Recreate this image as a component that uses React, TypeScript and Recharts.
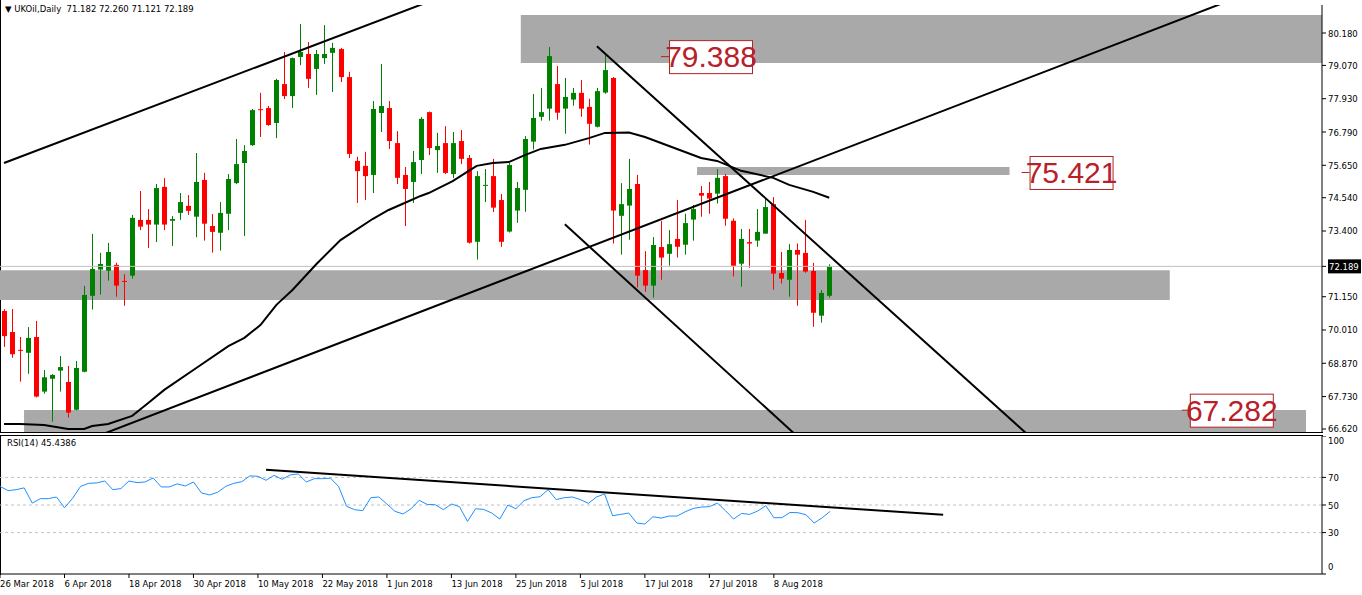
import React from "react";
import {
  Bar,
  ComposedChart,
  Line,
  ReferenceArea,
  ReferenceDot,
  ReferenceLine,
  XAxis,
  YAxis,
} from "recharts";

// daily candles, 26 Mar 2018 .. 17 Aug 2018
const opens = [
  70.66, 69.94, 69.33, 69.23, 69.77, 67.9, 68.34, 68.62, 68.23, 67.28, 68.58, 71.18, 72.08, 72.04, 72.24, 71.69,
  71.87, 73.78, 73.78, 73.62, 74.91, 73.75, 74.02, 74.26, 73.89, 75.15, 73.57, 73.34, 73.99, 75.04, 75.73, 76.34,
  77.57, 77.61, 77.1, 78.43, 78.02, 79.36, 79.46, 78.95, 79.32, 79.5, 79.63, 78.67, 75.8, 75.63, 75.32, 77.44,
  77.61, 76.41, 75.32, 75.08, 75.83, 77.47, 76.17, 76.41, 75.35, 76.48, 75.9, 73.03, 74.95, 75.28, 74.46, 73.38,
  74.1, 74.81, 76.46, 77.31, 77.59, 78.43, 77.59, 77.9, 78.13, 77.65, 76.97, 78.14, 78.64, 73.92, 74.27, 75.01,
  72.06, 71.53, 72.85, 72.62, 73.13, 72.93, 73.79, 74.7, 74.7, 74.68, 75.28, 73.75, 72.28, 73.02, 73.07, 73.31,
  74.32, 71.96, 71.73, 72.75, 72.65, 72.03, 70.5, 71.182,
];
const highs = [
  70.72, 70.73, 69.77, 70.11, 70.32, 68.64, 68.5, 69.12, 68.78, 68.95, 71.52, 73.3, 72.65, 72.99, 72.31, 71.92,
  73.95, 74.77, 74.15, 75.01, 75.21, 73.91, 74.7, 74.63, 76.07, 75.39, 73.98, 74.39, 75.35, 76.55, 76.34, 77.58,
  78.13, 77.68, 78.61, 79.53, 79.34, 80.49, 79.87, 79.6, 80.45, 79.84, 79.67, 78.85, 75.94, 76.11, 77.85, 79.12,
  77.85, 76.82, 75.59, 76.14, 77.3, 77.49, 76.76, 76.99, 76.79, 76.86, 76.0, 75.45, 75.52, 75.87, 74.67, 75.73,
  75.08, 76.65, 78.09, 78.3, 79.7, 79.05, 78.64, 78.3, 78.57, 77.93, 78.3, 79.46, 78.67, 75.04, 75.87, 75.32,
  72.71, 73.19, 73.74, 73.43, 74.46, 73.99, 74.29, 74.94, 75.08, 75.52, 75.35, 73.83, 73.47, 73.47, 74.15, 74.53,
  74.56, 72.68, 72.95, 72.97, 73.78, 72.31, 71.38, 72.26,
];
const lows = [
  69.43, 69.06, 68.24, 68.51, 67.7, 67.83, 66.87, 67.9, 67.01, 67.26, 68.56, 70.71, 71.22, 71.7, 71.15, 70.84,
  71.77, 73.43, 72.82, 73.02, 73.43, 72.89, 73.78, 73.95, 73.19, 73.07, 72.66, 72.73, 73.43, 75.01, 73.23, 76.31,
  76.62, 77.0, 76.58, 77.92, 77.61, 79.08, 78.3, 78.06, 79.12, 78.16, 78.5, 75.9, 74.36, 74.46, 74.7, 76.79,
  76.21, 75.01, 73.57, 74.36, 75.35, 76.0, 75.39, 75.35, 75.21, 75.69, 72.97, 72.42, 74.39, 74.05, 72.86, 73.35,
  73.68, 74.06, 76.19, 77.18, 77.18, 77.21, 76.73, 77.69, 77.31, 76.36, 76.95, 78.1, 72.97, 72.59, 73.1, 71.47,
  71.32, 71.12, 71.73, 72.21, 72.49, 72.59, 73.07, 73.89, 73.99, 74.34, 73.58, 71.84, 71.49, 72.14, 72.86, 73.31,
  71.39, 71.6, 71.15, 70.84, 71.97, 70.12, 70.26, 71.121,
];
const closes = [
  69.8, 69.18, 69.3, 69.74, 67.73, 68.39, 68.47, 68.74, 67.18, 68.71, 71.21, 72.1, 72.27, 72.68, 71.53, 71.67,
  73.85, 73.55, 73.62, 74.87, 73.62, 73.81, 74.39, 74.09, 75.08, 73.65, 73.37, 74.02, 75.18, 75.69, 76.14, 77.54,
  77.54, 77.03, 78.57, 78.02, 79.32, 79.53, 78.61, 79.46, 79.46, 79.67, 78.67, 76.04, 75.45, 75.28, 77.58, 77.68,
  76.48, 75.22, 74.84, 75.76, 77.24, 76.24, 76.31, 75.39, 76.41, 75.87, 73.0, 75.28, 74.98, 74.2, 73.03, 75.66,
  74.87, 76.55, 77.27, 77.47, 79.39, 77.45, 77.99, 78.13, 77.59, 77.07, 78.19, 78.91, 74.1, 74.32, 74.84, 71.87,
  71.53, 72.92, 72.49, 72.95, 72.86, 73.67, 74.15, 74.61, 74.51, 75.22, 73.82, 72.21, 73.13, 72.97, 73.37, 74.22,
  71.94, 71.77, 72.75, 72.59, 72.01, 70.6, 71.28, 72.189,
];

const rsiValues = [
  63.5, 60.4, 61.1, 62.4, 51.4, 54.6, 54.6, 55.8, 48.0, 54.8, 63.5, 65.7, 66.0, 67.4, 61.1, 61.9,
  67.4, 66.2, 66.7, 69.6, 63.1, 63.1, 65.3, 63.8, 66.7, 58.7, 57.3, 59.2, 63.5, 65.7, 66.9, 71.1,
  70.8, 67.9, 71.5, 68.6, 71.8, 72.5, 66.7, 69.1, 69.1, 69.4, 63.5, 49.0, 46.6, 45.9, 55.3, 55.8,
  50.7, 45.4, 43.5, 47.3, 53.4, 50.4, 50.2, 46.6, 50.7, 48.8, 38.1, 47.3, 46.8, 44.2, 39.8, 50.0,
  47.3, 53.1, 55.3, 56.0, 61.1, 53.9, 55.3, 55.8, 53.9, 51.2, 55.8, 58.0, 42.2, 43.2, 44.2, 36.9,
  36.2, 41.5, 40.5, 42.0, 42.0, 45.1, 47.5, 48.5, 48.8, 51.4, 45.9, 39.8, 43.9, 43.2, 45.6, 49.5,
  40.8, 40.8, 44.6, 44.4, 42.9, 36.9, 40.8, 45.4386,
];

// moving average at these bars
const maIndex = [0, 2, 5, 8, 10, 11, 13, 16, 18, 20, 24, 28, 30, 32, 34, 36, 39, 41, 42, 46, 48, 50, 52, 53, 56, 58, 59, 61, 63, 65, 67, 70, 73, 75, 78, 80, 83, 87, 89, 92, 96, 98, 101, 103];
const maValues = [66.79, 66.79, 66.76, 66.62, 66.62, 66.72, 66.79, 67.07, 67.51, 67.96, 68.71, 69.46, 69.74, 70.18, 70.87, 71.38, 72.27, 72.82, 73.09, 73.81, 74.12, 74.36, 74.6, 74.7, 75.11, 75.46, 75.63, 75.73, 75.76, 76.0, 76.21, 76.35, 76.58, 76.76, 76.77, 76.62, 76.31, 75.9, 75.8, 75.46, 75.22, 74.98, 74.74, 74.54];

// drawn trend lines: [bar, price] -> [bar, price]
const trendLines = [
  { key: "tA", from: [0, 75.73], to: [53, 81.25] },
  { key: "tB", from: [12, 66.41], to: [152, 81.19] },
  { key: "tC", from: [74, 79.73], to: [128, 66.37] },
  { key: "tD", from: [70, 73.63], to: [99, 66.37] },
];
const rsiTrend = { from: [33, 75.5], to: [117, 42.9] };

const zones = [
  { x1: 65, x2: 164, y1: 79.15, y2: 80.8 },
  { x1: 87, x2: 125, y1: 75.32, y2: 75.59 },
  { x1: 0, x2: 145, y1: 71.04, y2: 72.06 },
  { x1: 3, x2: 162, y1: 66.52, y2: 67.27 },
];
const priceLabels = [
  { bar: 83, price: 79.388 },
  { bar: 128, price: 75.421 },
  { bar: 148, price: 67.282 },
];

const dateTickIndex = [0, 8, 16, 24, 32, 40, 48, 56, 64, 72, 80, 88, 96];
const dateTickLabels = [
  "26 Mar 2018", "6 Apr 2018", "18 Apr 2018", "30 Apr 2018", "10 May 2018", "22 May 2018", "1 Jun 2018",
  "13 Jun 2018", "25 Jun 2018", "5 Jul 2018", "17 Jul 2018", "27 Jul 2018", "8 Aug 2018",
];
const priceTicks = [80.18, 79.07, 77.93, 76.79, 75.65, 74.54, 73.4, 72.189, 71.15, 70.01, 68.87, 67.73, 66.62];
const rsiTicks = [0, 30, 50, 70, 100];
const rsiLevels = [70, 50, 30];

const SLOTS = 165;
const last = opens.length - 1;
const lastClose = closes[last];
const FONT = "DejaVu Sans";

type Row = { [k: string]: number | null };

const rows: Row[] = Array.from({ length: SLOTS }, (_, i) => ({
  idx: i,
  o: opens[i] ?? null,
  h: highs[i] ?? null,
  l: lows[i] ?? null,
  c: closes[i] ?? null,
  rsi: rsiValues[i] ?? null,
  ma: null,
  tA: null,
  tB: null,
  tC: null,
  tD: null,
  rt: null,
}));
maIndex.forEach((b, k) => (rows[b].ma = maValues[k]));
trendLines.forEach((t) => {
  rows[t.from[0]][t.key] = t.from[1];
  rows[t.to[0]][t.key] = t.to[1];
});
rows[rsiTrend.from[0]].rt = rsiTrend.from[1];
rows[rsiTrend.to[0]].rt = rsiTrend.to[1];

function Candle(props: any) {
  const { x, y, width, height, payload } = props;
  if (!payload || payload.o == null || x == null) return null;
  const { o, h, l, c } = payload;
  const top = Math.min(y, y + height);
  const span = Math.abs(height);
  const k = h > l ? span / (h - l) : 0;
  const py = (p: number) => top + (h - p) * k;
  const mid = Math.round(x + width / 2);
  const color = c >= o ? "#008000" : "#FF0000";
  const bodyTop = py(Math.max(o, c));
  const bodyH = Math.max(1, py(Math.min(o, c)) - bodyTop);
  return (
    <g>
      <line x1={mid + 0.5} x2={mid + 0.5} y1={top} y2={top + span} stroke={color} strokeWidth={1} />
      <rect x={mid - 2} y={bodyTop} width={5} height={bodyH} fill={color} />
    </g>
  );
}

function PriceTick(props: any) {
  const { x, y, payload } = props;
  const v = payload.value;
  const txt = v.toFixed(3);
  if (v === lastClose) {
    return (
      <g>
        <rect x={x} y={y - 7} width={33} height={14} fill="#000" />
        <text x={x + 1} y={y} dy={3.5} fill="#fff" fontSize={8.5} fontFamily={FONT}>
          {txt}
        </text>
      </g>
    );
  }
  return (
    <text x={x} y={y} dy={3.5} fill="#000" fontSize={8.5} fontFamily={FONT}>
      {txt}
    </text>
  );
}

function RsiTick(props: any) {
  const { x, y, payload } = props;
  const v = payload.value;
  const shift = v === 100 ? 8 : v === 0 ? -4 : 3.5;
  return (
    <text x={x} y={y} dy={shift} fill="#000" fontSize={8.5} fontFamily={FONT}>
      {v}
    </text>
  );
}

function DateTick(props: any) {
  const { x, y, payload } = props;
  const k = dateTickIndex.indexOf(payload.value);
  return (
    <text x={x} y={y} dy={7} fill="#000" fontSize={8.5} fontFamily={FONT}>
      {dateTickLabels[k]}
    </text>
  );
}

function LevelLabel(text: string) {
  return (props: any) => {
    const { cx, cy } = props;
    return (
      <g>
        <line x1={cx - 8} x2={cx} y1={cy + 0.5} y2={cy + 0.5} stroke="#B22222" strokeWidth={1} />
        <rect x={cx + 0.5} y={cy - 15.5} width={83} height={33} fill="#fff" stroke="#B22222" strokeWidth={1} />
        <text
          x={cx + 42}
          y={cy + 11}
          textAnchor="middle"
          fill="#B8202A"
          fontSize={30}
          fontFamily="Liberation Sans Narrow, Liberation Sans, sans-serif"
        >
          {text}
        </text>
      </g>
    );
  };
}

export default function App() {
  const textStyle: React.CSSProperties = { position: "absolute", fontFamily: FONT, fontSize: 8.5, color: "#000", whiteSpace: "pre" };
  return (
    <div style={{ position: "absolute", left: 0, top: 0, width: 1362, height: 595, background: "#fff", overflow: "hidden" }}>
      <div style={{ position: "absolute", left: 0, top: 0, width: 1322, height: 432, borderLeft: "1px solid #000", borderBottom: "1px solid #000" }} />
      <div style={{ position: "absolute", left: 0, top: 435, width: 1322, height: 139, borderLeft: "1px solid #000", borderTop: "1px solid #000" }} />

      <div style={{ position: "absolute", left: 0, top: 0 }}>
        <ComposedChart width={1362} height={434} data={rows} margin={{ top: 5, right: 0, bottom: 2, left: 0 }} barCategoryGap={0}>
          <XAxis dataKey="idx" type="category" hide />
          <YAxis
            orientation="right"
            width={40}
            domain={[66.517, 81.139]}
            allowDataOverflow
            ticks={priceTicks}
            interval={0}
            tick={<PriceTick />}
            tickSize={4}
            axisLine={{ stroke: "#000" }}
            tickLine={{ stroke: "#000" }}
          />
          {zones.map((z, i) => (
            <ReferenceArea key={i} x1={z.x1} x2={z.x2} y1={z.y1} y2={z.y2} fill="#A9A9A9" fillOpacity={1} stroke="none" />
          ))}
          <ReferenceLine y={lastClose} stroke="#C0C0C0" strokeWidth={1} />
          <Bar dataKey={(d: any) => (d.o == null ? null : [d.l, d.h])} shape={<Candle />} isAnimationActive={false} />
          <Line type="linear" dataKey="ma" stroke="#000" strokeWidth={2} dot={false} connectNulls isAnimationActive={false} />
          {trendLines.map((t) => (
            <Line key={t.key} type="linear" dataKey={t.key} stroke="#000" strokeWidth={2} dot={false} connectNulls isAnimationActive={false} />
          ))}
          {priceLabels.map((p) => (
            <ReferenceDot key={p.price} x={p.bar} y={p.price} r={0} shape={LevelLabel(p.price.toFixed(3))} />
          ))}
        </ComposedChart>
      </div>

      <div style={{ position: "absolute", left: 0, top: 436 }}>
        <ComposedChart width={1362} height={159} data={rows} margin={{ top: 0, right: 0, bottom: 0, left: 0 }}>
          <XAxis
            dataKey="idx"
            type="category"
            height={21}
            ticks={dateTickIndex}
            interval={0}
            tick={<DateTick />}
            tickSize={4}
            axisLine={{ stroke: "#000" }}
            tickLine={{ stroke: "#000" }}
          />
          <YAxis
            orientation="right"
            width={40}
            domain={[0, 100]}
            ticks={rsiTicks}
            interval={0}
            tick={<RsiTick />}
            tickSize={4}
            axisLine={{ stroke: "#000" }}
            tickLine={{ stroke: "#000" }}
          />
          {rsiLevels.map((v) => (
            <ReferenceLine key={v} y={v} stroke="#C0C0C0" strokeDasharray="3 3" />
          ))}
          <Line type="linear" dataKey="rsi" stroke="#1E90FF" strokeWidth={1} dot={false} isAnimationActive={false} />
          <Line type="linear" dataKey="rt" stroke="#000" strokeWidth={2} dot={false} connectNulls isAnimationActive={false} />
        </ComposedChart>
      </div>

      <div style={{ ...textStyle, left: 5, top: 4 }}>
        {"\u25BC " + `UKOil,Daily  ${opens[last].toFixed(3)} ${highs[last].toFixed(3)} ${lows[last].toFixed(3)} ${closes[last].toFixed(3)}`}
      </div>
      <div style={{ ...textStyle, left: 7, top: 438 }}>{`RSI(14) ${rsiValues[last].toFixed(4)}`}</div>
    </div>
  );
}
